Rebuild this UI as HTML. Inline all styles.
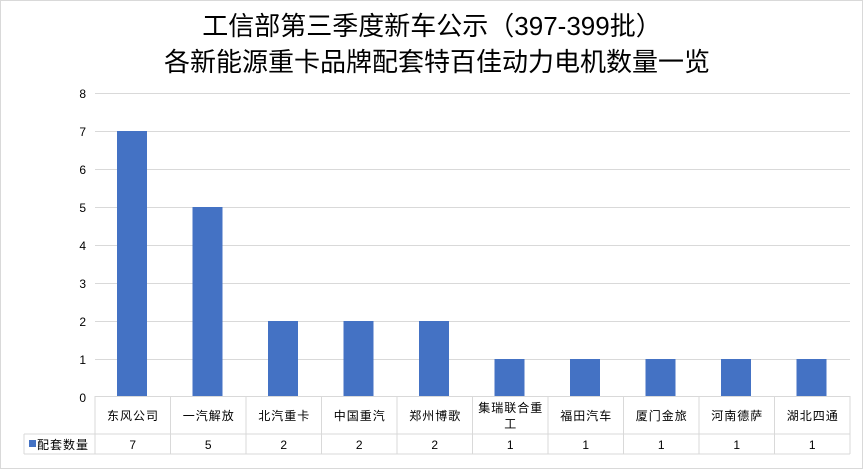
<!DOCTYPE html>
<html><head><meta charset="utf-8"><style>
body{margin:0;background:#fff}
svg text{font-family:"Liberation Sans","Noto Sans CJK SC",sans-serif}
</style></head><body>
<svg width="865" height="471" viewBox="0 0 865 471" xmlns="http://www.w3.org/2000/svg">
<rect x="0.5" y="0.5" width="862" height="468" fill="#fff" stroke="#d9d9d9"/>
<text x="432" y="35" font-size="26" text-anchor="middle" fill="#000">工信部第三季度新车公示（397-399批）</text>
<text x="437" y="71" font-size="26" text-anchor="middle" fill="#000">各新能源重卡品牌配套特百佳动力电机数量一览</text>
<g stroke="#d9d9d9" stroke-width="1">
<line x1="95" x2="850" y1="93.5" y2="93.5"/>
<line x1="95" x2="850" y1="131.5" y2="131.5"/>
<line x1="95" x2="850" y1="169.5" y2="169.5"/>
<line x1="95" x2="850" y1="207.5" y2="207.5"/>
<line x1="95" x2="850" y1="245.5" y2="245.5"/>
<line x1="95" x2="850" y1="283.5" y2="283.5"/>
<line x1="95" x2="850" y1="321.5" y2="321.5"/>
<line x1="95" x2="850" y1="359.5" y2="359.5"/>
</g>
<g font-size="12" fill="#000" text-anchor="end">
<text x="86" y="98">8</text><text x="86" y="136">7</text><text x="86" y="174">6</text>
<text x="86" y="212">5</text><text x="86" y="250">4</text><text x="86" y="288">3</text>
<text x="86" y="326">2</text><text x="86" y="364">1</text><text x="86" y="402">0</text>
</g>
<g fill="#4472c4">
<rect x="117" y="131" width="30" height="266"/>
<rect x="192.5" y="207" width="30" height="190"/>
<rect x="268" y="321" width="30" height="76"/>
<rect x="343.5" y="321" width="30" height="76"/>
<rect x="419" y="321" width="30" height="76"/>
<rect x="494.5" y="359" width="30" height="38"/>
<rect x="570" y="359" width="30" height="38"/>
<rect x="645.5" y="359" width="30" height="38"/>
<rect x="721" y="359" width="30" height="38"/>
<rect x="796.5" y="359" width="30" height="38"/>
</g>
<g stroke="#d9d9d9" stroke-width="1" fill="none">
<line x1="95" x2="850" y1="396.5" y2="396.5"/>
<line x1="24" x2="850" y1="434" y2="434"/>
<line x1="24" x2="850" y1="454" y2="454"/>
<line x1="24" x2="24" y1="434" y2="454"/>
<line x1="95" x2="95" y1="396" y2="454"/>
<line x1="170.5" x2="170.5" y1="396" y2="454"/>
<line x1="246" x2="246" y1="396" y2="454"/>
<line x1="321.5" x2="321.5" y1="396" y2="454"/>
<line x1="397" x2="397" y1="396" y2="454"/>
<line x1="472.5" x2="472.5" y1="396" y2="454"/>
<line x1="548" x2="548" y1="396" y2="454"/>
<line x1="623.5" x2="623.5" y1="396" y2="454"/>
<line x1="699" x2="699" y1="396" y2="454"/>
<line x1="774.5" x2="774.5" y1="396" y2="454"/>
<line x1="850" x2="850" y1="396" y2="454"/>
</g>
<g font-size="12" fill="#000" text-anchor="middle" letter-spacing="1">
<text x="133" y="420">东风公司</text>
<text x="208.75" y="420">一汽解放</text>
<text x="284.25" y="420">北汽重卡</text>
<text x="359.75" y="420">中国重汽</text>
<text x="435.25" y="420">郑州博歌</text>
<text x="510.75" y="412">集瑞联合重</text>
<text x="510.75" y="428">工</text>
<text x="586.25" y="420">福田汽车</text>
<text x="661.75" y="420">厦门金旅</text>
<text x="737.25" y="420">河南德萨</text>
<text x="812.75" y="420">湖北四通</text>
</g>
<g font-size="12" fill="#000" text-anchor="middle">
<text x="132.75" y="449">7</text><text x="208.25" y="449">5</text>
<text x="283.75" y="449">2</text><text x="359.25" y="449">2</text>
<text x="434.75" y="449">2</text><text x="510.25" y="449">1</text>
<text x="585.75" y="449">1</text><text x="661.25" y="449">1</text>
<text x="736.75" y="449">1</text><text x="812.25" y="449">1</text>
</g>
<rect x="29" y="440" width="7" height="7" fill="#4472c4"/>
<text x="37" y="449" font-size="12" fill="#000" letter-spacing="1">配套数量</text>
</svg>
</body></html>
